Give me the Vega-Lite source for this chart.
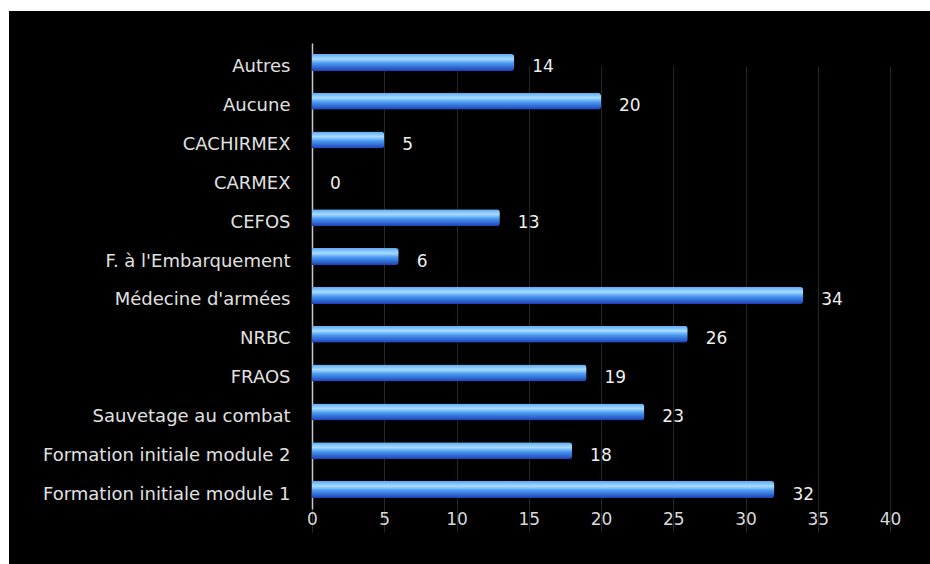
{
  "$schema": "https://vega.github.io/schema/vega-lite/v6.json",
  "width": 921,
  "height": 553,
  "autosize": {"type": "none"},
  "padding": {"left": 9, "top": 11, "right": 0, "bottom": 0},
  "background": "white",
  "config": {"view": {"fill": "black", "stroke": null}, "font": "DejaVu Sans"},
  "data": {
    "values": [
      {"formation": "Autres", "n": 14},
      {"formation": "Aucune", "n": 20},
      {"formation": "CACHIRMEX", "n": 5},
      {"formation": "CARMEX", "n": 0},
      {"formation": "CEFOS", "n": 13},
      {"formation": "F. à l'Embarquement", "n": 6},
      {"formation": "Médecine d'armées", "n": 34},
      {"formation": "NRBC", "n": 26},
      {"formation": "FRAOS", "n": 19},
      {"formation": "Sauvetage au combat", "n": 23},
      {"formation": "Formation initiale module 2", "n": 18},
      {"formation": "Formation initiale module 1", "n": 32}
    ]
  },
  "encoding": {
    "y": {
      "field": "formation",
      "type": "nominal",
      "sort": null,
      "scale": {"range": [32, 498], "paddingInner": 0.56, "paddingOuter": 0.28},
      "axis": {
        "title": null,
        "offset": -303,
        "ticks": false,
        "domain": true,
        "domainColor": "#c8c8c8",
        "domainWidth": 1.5,
        "labelPadding": 22,
        "labelOffset": 5,
        "labelColor": "#e0e0e0",
        "labelFontSize": 18,
        "labelLimit": 400
      }
    },
    "x": {
      "field": "n",
      "type": "quantitative",
      "scale": {"domain": [0, 40], "range": [303, 881]},
      "axis": {
        "title": null,
        "offset": -55,
        "values": [0, 5, 10, 15, 20, 25, 30, 35, 40],
        "domain": false,
        "ticks": false,
        "grid": true,
        "gridColor": "#1f2a2a",
        "gridWidth": 1,
        "labelFlush": false,
        "labelPadding": 2,
        "labelColor": "#d8d8d8",
        "labelFontSize": 17
      }
    }
  },
  "layer": [
    {
      "mark": {
        "type": "bar",
        "size": 17,
        "cornerRadiusEnd": 3,
        "color": {
          "gradient": "linear",
          "x1": 0, "y1": 0, "x2": 0, "y2": 1,
          "stops": [
            {"offset": 0, "color": "#5aa8f5"},
            {"offset": 0.3, "color": "#a8dcff"},
            {"offset": 0.55, "color": "#4a9af2"},
            {"offset": 1, "color": "#1c3fb5"}
          ]
        }
      }
    },
    {
      "mark": {
        "type": "text",
        "align": "left",
        "baseline": "middle",
        "dx": 18,
        "dy": 5,
        "fontSize": 17,
        "color": "#eeeeee"
      },
      "encoding": {"text": {"field": "n", "type": "quantitative"}}
    }
  ]
}
